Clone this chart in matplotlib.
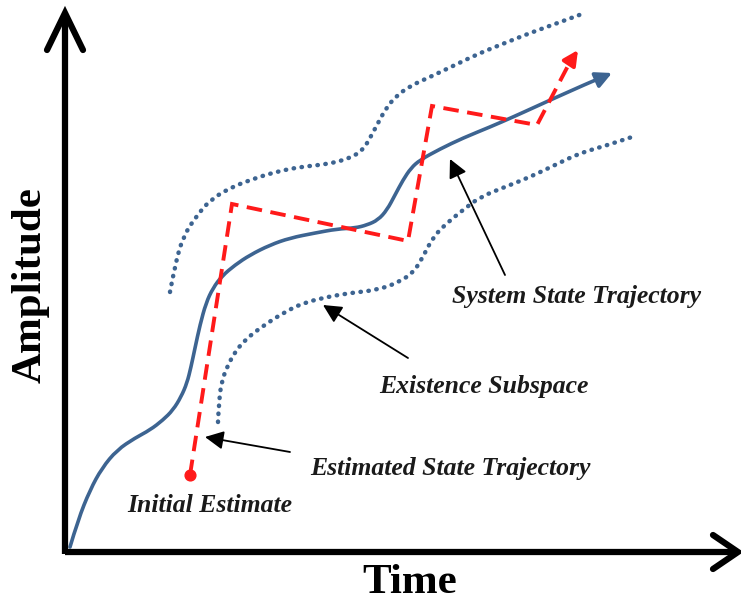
import numpy as np
import matplotlib.pyplot as plt
from matplotlib.patches import FancyArrowPatch, PathPatch
from matplotlib.path import Path

# all coordinates are in picture pixels (x right, y down)
W, H = 741, 607

# system state trajectory (solid blue)
sys_x = [70, 78, 90, 102, 117, 135, 150, 163, 173, 181, 187, 191, 195, 200, 206, 213,
         222, 235, 250, 270, 290, 315, 337, 355, 367, 378, 387, 395, 403, 411, 420,
         440, 463, 490, 513, 535, 557, 575, 593, 603]
sys_y = [547, 520, 490, 468, 450, 438, 430, 420, 410, 397, 383, 367, 348, 325, 303, 288,
         276, 265, 255, 245, 238, 233, 229, 228, 225, 220, 210, 195, 180, 168, 160,
         149, 138, 127, 117, 107, 97, 89, 81, 77]
sys_tip = (612, 73)

# estimated state trajectory (red dashed)
est_x = [190, 232, 408, 432, 537, 570]
est_y = [475, 204, 241, 106, 125, 62]
est_tip = (578, 50)

# existence subspace bounds (dotted)
up_x = [170, 175, 183, 195, 210, 230, 250, 275, 300, 320, 337, 352, 363, 370, 377,
        385, 395, 410, 430, 455, 480, 505, 530, 555, 582]
up_y = [292, 265, 237, 218, 200, 188, 180, 172, 167, 165, 162, 157, 150, 138, 125,
        110, 97, 86, 77, 65, 53, 43, 33, 24, 14]
lo_x = [218, 219, 222, 228, 235, 245, 260, 283, 303, 327, 350, 377, 397, 413, 423,
        433, 447, 463, 480, 505, 530, 555, 580, 605, 632]
lo_y = [422, 400, 380, 365, 352, 340, 328, 313, 303, 297, 293, 290, 283, 273, 257,
        237, 223, 210, 197, 187, 177, 165, 153, 146, 137]

# labels: text, text position, arrow tail, arrow tip
labels = [
    ("System State Trajectory", (577, 297), (505, 275), (450, 159)),
    ("Existence Subspace", (484, 387), (408, 358), (323, 305)),
    ("Estimated State Trajectory", (450, 468), (290, 452), (205, 437)),
]
init_label = ("Initial Estimate", (210, 505))

origin = (65, 552)
x_end, y_end = 738, 13

blue = "#3d6491"
red = "#ff1a1a"


def smooth_path(xs, ys):
    # quadratic curve through midpoints, read points act as control points
    pts = np.column_stack([xs, ys]).astype(float)
    verts = [pts[0]]
    codes = [Path.MOVETO]
    for i in range(1, len(pts) - 1):
        mid = (pts[i] + pts[i + 1]) / 2 if i < len(pts) - 2 else pts[i + 1]
        verts += [pts[i], mid]
        codes += [Path.CURVE3, Path.CURVE3]
    return Path(verts, codes)


fig = plt.figure(figsize=(W / 100, H / 100), dpi=100)
ax = fig.add_axes([0, 0, 1, 1])
ax.set_xlim(0, W)
ax.set_ylim(H, 0)
ax.axis("off")

# axes with chevron heads
ax.plot([origin[0], x_end], [origin[1], origin[1]], color="black", lw=4.5,
        solid_capstyle="butt")
ax.plot([origin[0], origin[0]], [origin[1] + 2, y_end + 2], color="black", lw=4.5,
        solid_capstyle="butt")
ax.plot([713, x_end, 713], [535, origin[1], 569], color="black", lw=4.5,
        solid_capstyle="round", solid_joinstyle="miter")
ax.plot([47, origin[0], 83], [50, y_end, 50], color="black", lw=4.5,
        solid_capstyle="round", solid_joinstyle="miter")

# dotted bounds
for xs, ys in [(up_x, up_y), (lo_x, lo_y)]:
    ax.add_patch(PathPatch(smooth_path(xs, ys), facecolor="none", edgecolor=blue,
                           lw=3.2, linestyle=(0, (0.1, 1.7)), capstyle="round"))

# system trajectory
ax.add_patch(PathPatch(smooth_path(sys_x, sys_y), facecolor="none", edgecolor=blue,
                       lw=2.6, capstyle="round"))
ax.add_patch(FancyArrowPatch((sys_x[-1], sys_y[-1]), sys_tip, arrowstyle="-|>",
                             mutation_scale=24, color=blue, lw=2.6,
                             shrinkA=0, shrinkB=0))

# estimated trajectory
ax.plot(est_x, est_y, color=red, lw=2.8, linestyle=(0, (4, 2.2)),
        dash_joinstyle="miter")
ax.add_patch(FancyArrowPatch((est_x[-1], est_y[-1]), est_tip, arrowstyle="-|>",
                             mutation_scale=22, color=red, lw=2.8,
                             shrinkA=0, shrinkB=0))
ax.scatter([est_x[0]], [est_y[0]], s=60, color=red, zorder=5)

tfont = dict(family="Liberation Serif", style="italic", weight="bold", fontsize=18.5,
             color="#1a1a1a")
for txt, pos, tail, tip in labels:
    ax.text(pos[0], pos[1], txt, ha="center", va="center", **tfont)
    ax.annotate("", xy=tip, xytext=tail,
                arrowprops=dict(arrowstyle="-|>", color="black", lw=1.3,
                                mutation_scale=28, shrinkA=0, shrinkB=0))
ax.text(init_label[1][0], init_label[1][1], init_label[0], ha="center", va="center",
        **tfont)

ax.text(410, 583, "Time", ha="center", va="center", family="Liberation Serif",
        weight="bold", fontsize=31)
ax.text(31, 285, "Amplitude", ha="center", va="center", rotation=90,
        family="Liberation Serif", weight="bold", fontsize=31)

fig.savefig("out.png", dpi=100)
